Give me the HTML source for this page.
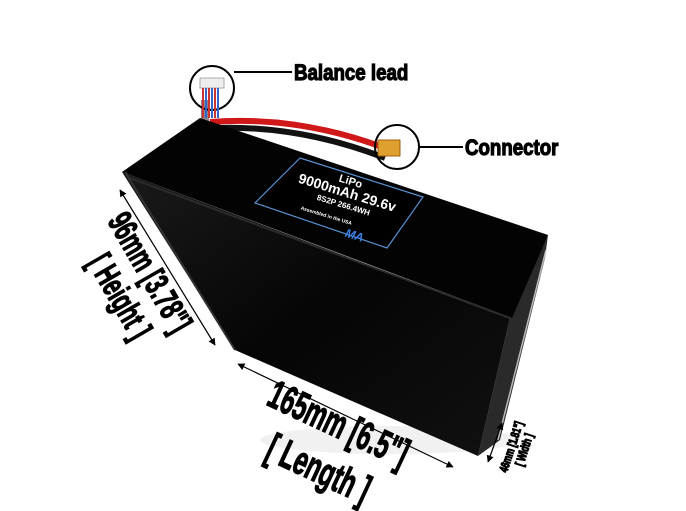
<!DOCTYPE html>
<html><head><meta charset="utf-8"><style>
html,body{margin:0;padding:0;background:#fff;}
svg{display:block}
.t{font-family:"Liberation Sans Narrow","Liberation Sans",sans-serif;font-weight:bold;fill:#000}
.k{stroke:#000;stroke-width:1.2}
</style></head><body>
<svg width="686" height="511" viewBox="0 0 686 511" xmlns="http://www.w3.org/2000/svg">
<defs>
<linearGradient id="g" x1="0" y1="0" x2="1" y2="1">
<stop offset="0" stop-color="#1a1a1a"/><stop offset="0.5" stop-color="#050505"/><stop offset="1" stop-color="#111"/>
</linearGradient>
<marker id="a" viewBox="0 0 10 10" refX="9" refY="5" markerWidth="6" markerHeight="6" orient="auto-start-reverse"><path d="M0 0L10 5L0 10z" fill="#000"/></marker>
</defs>
<ellipse cx="390" cy="440" rx="130" ry="14" fill="#e4e4e4" opacity="0.5"/>
<path d="M205 100 L205 125" stroke="#888" stroke-width="8"/>
<path d="M210 122 Q300 115 390 150" stroke="#d01818" stroke-width="6" fill="none"/>
<path d="M215 128 Q300 125 385 158" stroke="#111" stroke-width="6" fill="none"/>
<!-- right side face -->
<polygon points="548,235 545,258 500,440 478,456 510,318" fill="#2a2a2a"/>
<path d="M546 250 L498 440" stroke="#bbb" stroke-width="1.5"/>
<!-- front face -->
<polygon points="122,172 510,318 478,456 235,350" fill="url(#g)"/>
<!-- top face -->
<polygon points="122,172 200,118 548,235 512,318" fill="#030303"/>
<path d="M130 178 L510 318" stroke="#2b2b2b" stroke-width="2"/>
<path d="M125 172 L235 350" stroke="#333" stroke-width="2"/>
<polygon points="300,158 423,197 387,248 255,203" fill="#000" stroke="#5a8fd0" stroke-width="1.2"/>
<g transform="translate(345,200) rotate(17)">
<text class="t" x="0" y="-16" style="fill:#fff;font-size:11px" text-anchor="middle">LiPo</text>
<text class="t" x="0" y="-3" style="fill:#fff;font-size:14px" text-anchor="middle">9000mAh 29.6v</text>
<text class="t" x="0" y="8" style="fill:#fff;font-size:8px" text-anchor="middle">8S2P 266.4WH</text>
<text class="t" x="-40" y="22" style="fill:#fff;font-size:5px">Assembled in the USA</text>
<text class="t" x="10" y="35" style="fill:#3a7fe0;font-size:12px;font-style:italic">MA</text>
</g>
<circle cx="212" cy="88" r="22" fill="none" stroke="#000" stroke-width="2"/>
<rect x="200" y="78" width="24" height="10" fill="#eee" stroke="#aaa"/>
<path d="M203 88v30M206 88v30M209 88v30M212 88v30M215 88v30M218 88v30" stroke-width="2" stroke="#c33"/>
<path d="M206 88v30M212 88v30M218 88v30" stroke-width="2" stroke="#36c"/>
<line x1="234" y1="72" x2="292" y2="72" stroke="#000" stroke-width="2"/>
<text class="t k" font-size="22" transform="translate(294,80) scale(0.85,1)" stroke-width="0.6">Balance lead</text>
<rect x="378" y="140" width="22" height="16" fill="#e0a030" stroke="#a06010"/>
<circle cx="397" cy="147" r="22" fill="none" stroke="#000" stroke-width="2"/>
<line x1="419" y1="147" x2="463" y2="147" stroke="#000" stroke-width="2"/>
<text class="t k" font-size="22" transform="translate(465,155) scale(0.85,1)" stroke-width="0.6">Connector</text>
<line x1="120" y1="190" x2="215" y2="345" stroke="#000" stroke-width="1.2" marker-start="url(#a)" marker-end="url(#a)"/>
<line x1="238" y1="364" x2="453" y2="467" stroke="#000" stroke-width="1.2" marker-start="url(#a)" marker-end="url(#a)"/>
<line x1="502" y1="423" x2="488" y2="462" stroke="#000" stroke-width="1.2" marker-start="url(#a)" marker-end="url(#a)"/>
<text class="t k" font-size="34" transform="translate(140,278) rotate(60) scale(0.62,1)" text-anchor="middle">96mm [3.78"]</text>
<text class="t k" font-size="34" transform="translate(110,302) rotate(60) scale(0.62,1)" text-anchor="middle">[ Height ]</text>
<text class="t k" font-size="40" transform="translate(333,436) rotate(25) scale(0.6,1)" text-anchor="middle">165mm [6.5"]</text>
<text class="t k" font-size="40" transform="translate(313,481) rotate(25) scale(0.6,1)" text-anchor="middle">[ Length ]</text>
<text class="t k" stroke-width="0.4" font-size="12" transform="translate(515,448) rotate(-72) scale(0.7,1)" text-anchor="middle">46mm [1.81"]</text>
<text class="t k" stroke-width="0.4" font-size="12" transform="translate(528,451) rotate(-72) scale(0.7,1)" text-anchor="middle">[ Width ]</text>
</svg>
</body></html>
